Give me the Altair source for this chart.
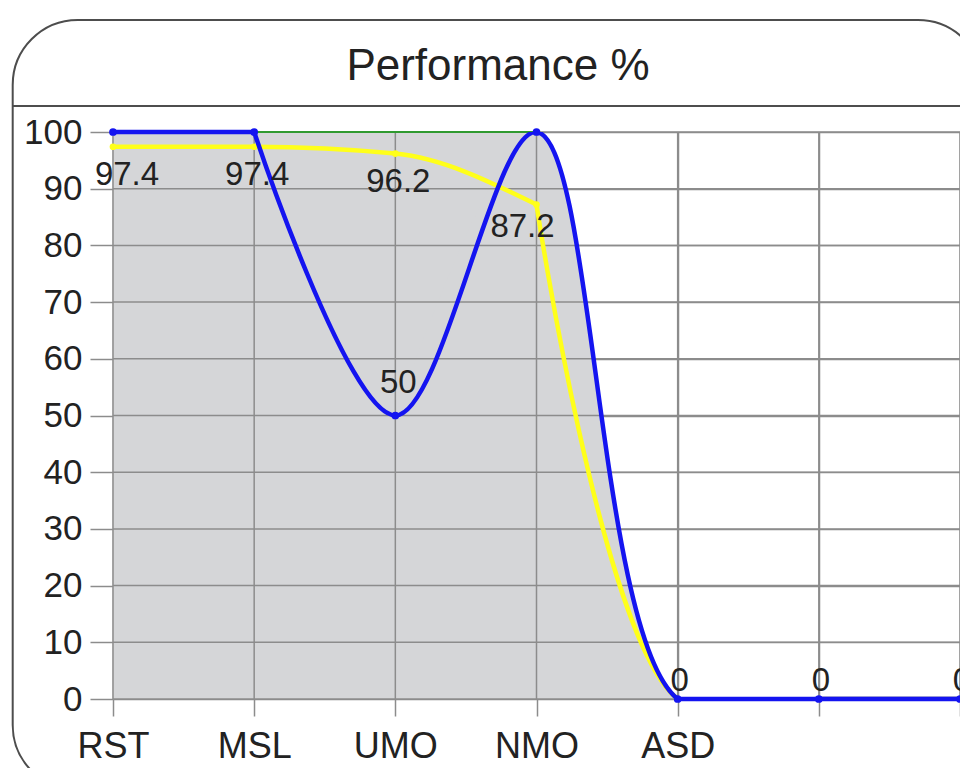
import altair as alt
import pandas as pd

# ---- data ----
categories = ["RST", "MSL", "UMO", "NMO", "ASD", "", ""]
blue_values = [100, 100, 50, 100, 0, 0, 0]
yellow_values = [97.4, 97.4, 96.2, 87.2, 0, 0, 0]
green_values = [100, 100, 100, 100, 0, 0, 0]
y_ticks = list(range(0, 101, 10))
x_ticks = list(range(len(categories)))
title_text = "Performance %"

df = pd.DataFrame({
    "i": x_ticks,
    "cat": categories,
    "blue": blue_values,
    "yellow": yellow_values,
    "green": green_values,
})
df["blue_label"] = df["blue"].map(lambda v: f"{v:g}")
df["yellow_label"] = df["yellow"].map(lambda v: f"{v:g}")

FONT = "Liberation Sans"
TEXT = "#222222"
GRID = "#8c8c8c"
BLUE = "#1414f0"
YELLOW = "#ffff1a"
GREEN = "#2f9a2f"
GRAY = "#d5d6d8"
BOX = "#4d4d4d"

W, H = 847, 567

x_scale = alt.Scale(domain=[0, 6], nice=False, zero=False)
y_scale = alt.Scale(domain=[0, 100], nice=False)

label_expr = "[" + ",".join("'" + c + "'" for c in categories) + "][datum.value]"

x_axis = alt.Axis(values=x_ticks, labelExpr=label_expr, grid=True, gridColor=GRID,
                  gridWidth=1.5, tickColor=GRID, tickWidth=1.5, tickSize=17,
                  domain=False, labelFont=FONT, labelFontSize=36, labelColor=TEXT,
                  labelPadding=13, labelFlush=False, labelOverlap=False, title=None)
y_axis = alt.Axis(values=y_ticks, grid=True, gridColor=GRID, gridWidth=1.5,
                  tickColor=GRID, tickWidth=1.5, tickSize=23, domain=False,
                  labelFont=FONT, labelFontSize=35, labelColor=TEXT, labelPadding=8,
                  labelFlush=False, labelOverlap=False, title=None)

base = alt.Chart(df)
X = alt.X("i:Q", scale=x_scale, axis=x_axis)


def Y(field):
    return alt.Y(field + ":Q", scale=y_scale, axis=y_axis)


deco = alt.Chart(alt.Data(values=[{"k": 1}]))

box = deco.mark_rect(fillOpacity=0, stroke=BOX, strokeWidth=2, cornerRadius=65).encode(
    x=alt.value(-100.3), x2=alt.value(870), y=alt.value(-112), y2=alt.value(658))
separator = deco.mark_rule(color=BOX, strokeWidth=2).encode(
    x=alt.value(-100.3), x2=alt.value(900), y=alt.value(-26))
title = deco.mark_text(text=title_text, font=FONT, fontSize=44, color=TEXT,
                       align="center", baseline="alphabetic").encode(
    x=alt.value(385), y=alt.value(-52))

# grey region: flat part under the green 100 line, and the part under the blue descent
area_flat = base.transform_filter("datum.i <= 3").mark_area(
    fill=GRAY, fillOpacity=1).encode(x=X, y=Y("green"))
area_desc = base.transform_filter("datum.i >= 2").mark_area(
    interpolate="catmull-rom", clip=True, fill=GRAY, fillOpacity=1).encode(x=X, y=Y("blue"))

# grid lines again above the grey fill (same ticks as the axes)
hgrid = alt.Chart(pd.DataFrame({"v": y_ticks})).mark_rule(
    color=GRID, strokeWidth=1.5).encode(
    y=alt.Y("v:Q", scale=y_scale, axis=y_axis), x=alt.value(0), x2=alt.value(W))
vgrid = alt.Chart(pd.DataFrame({"v": x_ticks})).mark_rule(
    color=GRID, strokeWidth=1.5).encode(
    x=alt.X("v:Q", scale=x_scale, axis=x_axis), y=alt.value(0), y2=alt.value(H))

green_flat = base.transform_filter("datum.i <= 3").mark_line(
    color=GREEN, strokeWidth=2).encode(x=X, y=Y("green"))

yellow_a = base.transform_filter("datum.i <= 3").mark_line(
    interpolate="monotone", color=YELLOW, strokeWidth=4.5).encode(x=X, y=Y("yellow"))
yellow_b = base.transform_filter("datum.i >= 3").mark_line(
    interpolate="catmull-rom", clip=True, color=YELLOW, strokeWidth=4.5).encode(x=X, y=Y("yellow"))
yellow_pts = base.transform_filter("datum.i <= 3").mark_circle(
    color=YELLOW, size=45, opacity=1).encode(x=X, y=Y("yellow"))

blue_a = base.transform_filter("datum.i <= 1").mark_line(
    color=BLUE, strokeWidth=4.5).encode(x=X, y=Y("blue"))
blue_b = base.transform_filter("datum.i >= 1").mark_line(
    interpolate="catmull-rom", clip=True, color=BLUE, strokeWidth=4.5).encode(x=X, y=Y("blue"))
blue_c = base.transform_filter("datum.i >= 4").mark_line(
    color=BLUE, strokeWidth=4.5).encode(x=X, y=Y("blue"))
blue_pts = base.mark_circle(color=BLUE, size=60, opacity=1).encode(x=X, y=Y("blue"))


def ytext(flt, dx, dy):
    return base.transform_filter(flt).mark_text(
        font=FONT, fontSize=33, color=TEXT, align="center", baseline="middle",
        dx=dx, dy=dy).encode(x=X, y=Y("yellow"), text="yellow_label:N")


yellow_labels_first = ytext("datum.yellow > 0 && datum.i == 0", 14, 28)
yellow_labels_mid = ytext("datum.yellow > 0 && datum.i > 0 && datum.i < 3", 3, 28)
yellow_labels_last = ytext("datum.yellow > 0 && datum.i == 3", -14, 22)

blue_mid_labels = base.transform_filter("datum.blue > 0 && datum.blue < 100").mark_text(
    font=FONT, fontSize=33, color=TEXT, align="center", baseline="middle",
    dx=3, dy=-33).encode(x=X, y=Y("blue"), text="blue_label:N")
blue_zero_labels = base.transform_filter("datum.blue == 0").mark_text(
    font=FONT, fontSize=33, color=TEXT, align="center", baseline="middle",
    dx=2, dy=-18).encode(x=X, y=Y("blue"), text="blue_label:N")

chart = alt.layer(
    area_flat, area_desc, hgrid, vgrid,
    box, separator, title,
    green_flat,
    yellow_a, yellow_b, yellow_pts,
    blue_a, blue_b, blue_c, blue_pts,
    yellow_labels_first, yellow_labels_mid, yellow_labels_last,
    blue_mid_labels, blue_zero_labels,
).properties(
    width=W, height=H,
    padding={"left": 105, "top": 124, "right": 0, "bottom": 69},
    autosize=alt.AutoSizeParams(type="none"),
    background="white",
).configure_view(stroke=None)

chart.save("out.html", embed_options={"renderer": "svg", "actions": False})
